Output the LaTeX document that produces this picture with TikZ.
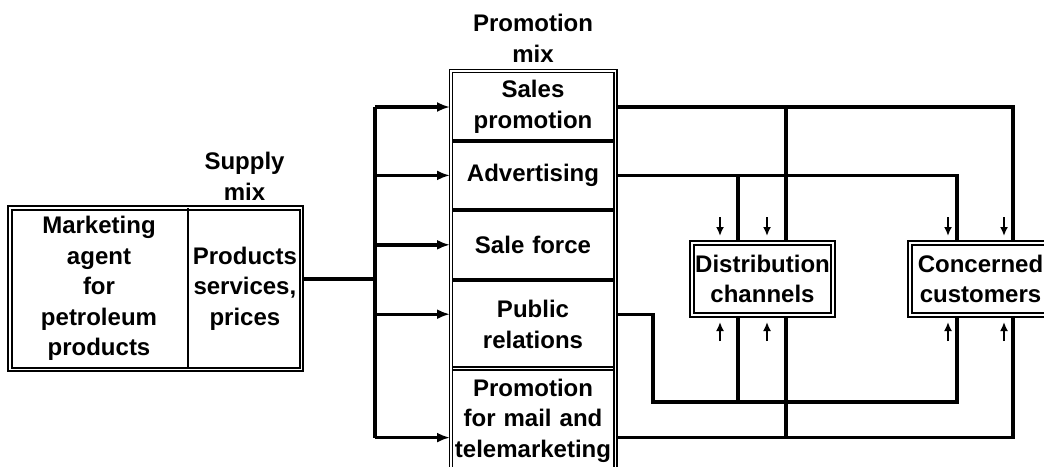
\documentclass[tikz,border=0pt]{standalone}
\usepackage{fontspec}
\setmainfont{Liberation Sans}
\usetikzlibrary{arrows,arrows.meta,%
                shapes,positioning,fit}

\begin{document}
\begin{tikzpicture}[x = 1pt, y = -1pt, node distance = 0pt,
                    font = \bfseries\fontsize{24}{30.5}\selectfont]
  \useasboundingbox (0,0) rectangle (1044,466);
  \tikzset{BoxStyle/.style   = {draw,
                                double,
                                line width      = 2pt,
                                double distance = 1.4pt,
                                inner sep       = 0pt}}
  \tikzset{CellStyle/.style  = {shape          = rectangle,
                                align          = center,
                                inner sep      = 0pt,
                                text width     = 160pt}}
  \tikzset{TitleStyle/.style = {align          = center,
                                inner sep      = 0pt}}
  \tikzset{LineStyle/.style  = {line width     = 3.4pt}}
  \tikzset{ArrowStyle/.style = {line width     = 3.4pt,
                                -{Latex[length = 13pt, width = 10pt]}}}
  \tikzset{TickStyle/.style  = {line width     = 2.4pt,
                                -{Latex[length = 9pt, width = 8pt]}}}
     % supply side
     \node[CellStyle, text width = 178pt, minimum height = 161pt] (agent) at (99,288.5)
          {Marketing\\agent\\for\\petroleum\\products};
     \node[CellStyle, text width = 113pt, minimum height = 161pt, right = of agent] (goods)
          {Products\\services,\\prices};
     \node[BoxStyle, fit = (agent)(goods)] (supplybox) {};
     \draw[line width = 1.6pt] (goods.north west) -- (goods.south west);
     \node[TitleStyle] (supplytitle) at (244.5,176.5) {Supply\\mix};

     % promotion mix
     \node[TitleStyle] (promotitle) at (533,38.5) {Promotion\\mix};
     \node[CellStyle, minimum height = 68pt] (sales) at (533,107) {Sales\\promotion};
     \node[CellStyle, minimum height = 68pt, below = of sales] (adv) {Advertising};
     \node[CellStyle, minimum height = 70pt, below = of adv] (force) {Sale force};
     \node[CellStyle, minimum height = 88pt, below = of force] (public) {Public\\relations};
     \node[CellStyle, minimum height = 104pt, below = of public] (mail)
          {Promotion\\for mail and\\telemarketing};
     \node[BoxStyle, fit = (sales)(mail), inner sep = 2pt, line width = 1.6pt] (promobox) {};
     \draw[LineStyle, line width = 4pt] (sales.south west) -- (sales.south east);
     \draw[LineStyle, line width = 4pt] (adv.south west) -- (adv.south east);
     \draw[LineStyle] (force.south west) -- (force.south east);
     \draw[double, line width = 1.6pt, double distance = 1.6pt]
          (public.south west) -- (public.south east);

     % targets
     \node[CellStyle, BoxStyle, text width = 141pt, minimum height = 72pt] (channels)
          at (762.5,279) {Distribution\\channels};
     \node[CellStyle, BoxStyle, text width = 141pt, minimum height = 72pt] (customers)
          at (980.5,279) {Concerned\\customers};

     \coordinate (hub)     at (375,279);
     \coordinate (pubrow)  at ([yshift=10pt]public.center);
     \coordinate (mailrow) at ([yshift=-17pt]mail.center);
     \coordinate (detour)  at (653,402);
     \coordinate (disL)    at (738,0);
     \coordinate (disR)    at (786,0);
     \coordinate (cusL)    at (957,0);
     \coordinate (cusR)    at (1013,0);

     \draw[LineStyle] (supplybox.east |- hub) -- (hub);
     \draw[LineStyle] (hub |- sales) -- (hub |- mailrow);
     \foreach \row in {sales, adv, force, pubrow, mailrow}
        \draw[ArrowStyle] (hub |- \row) -- (promobox.west |- \row);

     \draw[LineStyle] (promobox.east |- sales) -| (cusR |- customers.north);
     \draw[LineStyle] (disR |- sales) -- (disR |- channels.north);
     \draw[LineStyle] (promobox.east |- adv) -| (cusL |- customers.north);
     \draw[LineStyle] (disL |- adv) -- (disL |- channels.north);
     \draw[LineStyle] (promobox.east |- pubrow) -| (detour) -| (cusL |- customers.south);
     \draw[LineStyle] (disL |- detour) -- (disL |- channels.south);
     \draw[LineStyle] (promobox.east |- mailrow) -| (cusR |- customers.south);
     \draw[LineStyle] (disR |- mailrow) -- (disR |- channels.south);

     \foreach \nd/\dx in {channels/-42.5, channels/4.5, customers/-32.5, customers/23.5}
     {
        \draw[TickStyle] ([xshift=\dx pt, yshift=25pt]\nd.north) -- ([xshift=\dx pt, yshift=6pt]\nd.north);
        \draw[TickStyle] ([xshift=\dx pt, yshift=-25pt]\nd.south) -- ([xshift=\dx pt, yshift=-6pt]\nd.south);
     }
\end{tikzpicture}
\end{document}
